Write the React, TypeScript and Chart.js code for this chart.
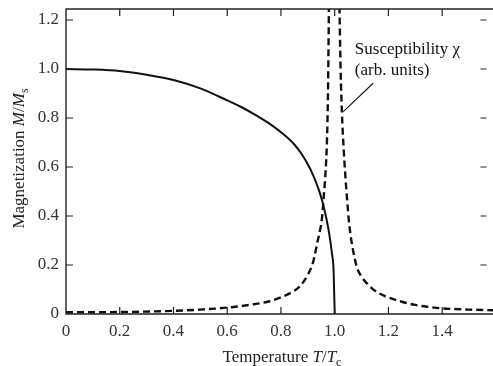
import React, { useEffect, useRef } from "react";
import { Chart, registerables } from "chart.js";
Chart.register(...registerables);

// ---- data ----
const xTickValues = [0, 0.2, 0.4, 0.6, 0.8, 1.0, 1.2, 1.4];
const xTickLabels = ["0", "0.2", "0.4", "0.6", "0.8", "1.0", "1.2", "1.4"];
const yTickValues = [0, 0.2, 0.4, 0.6, 0.8, 1.0, 1.2];
const yTickLabels = ["0", "0.2", "0.4", "0.6", "0.8", "1.0", "1.2"];

const magT = [0, 0.1, 0.2, 0.3, 0.4, 0.5, 0.6, 0.65, 0.7, 0.75, 0.8, 0.85, 0.875, 0.9, 0.92, 0.94, 0.955, 0.97, 0.98, 0.99, 0.996, 1.0];
const magM = [1.0, 0.998, 0.992, 0.977, 0.955, 0.921, 0.872, 0.846, 0.816, 0.782, 0.742, 0.692, 0.656, 0.611, 0.566, 0.51, 0.456, 0.385, 0.325, 0.245, 0.175, 0];

const chiLeftT = [0, 0.2, 0.4, 0.5, 0.6, 0.7, 0.75, 0.8, 0.85, 0.87, 0.9, 0.92, 0.935, 0.945, 0.952, 0.96, 0.966, 0.971, 0.975, 0.979];
const chiLeft = [0.007, 0.008, 0.013, 0.018, 0.026, 0.04, 0.05, 0.068, 0.095, 0.113, 0.16, 0.213, 0.29, 0.34, 0.384, 0.49, 0.58, 0.7, 0.9, 1.3];

const chiRightT = [1.017, 1.022, 1.027, 1.033, 1.04, 1.046, 1.052, 1.058, 1.065, 1.082, 1.1, 1.12, 1.15, 1.19, 1.25, 1.3, 1.35, 1.4, 1.5, 1.6];
const chiRight = [1.3, 1.0, 0.82, 0.68, 0.56, 0.47, 0.39, 0.33, 0.28, 0.193, 0.152, 0.125, 0.095, 0.072, 0.05, 0.037, 0.029, 0.023, 0.018, 0.015];

const annotationLines = ["Susceptibility χ", "(arb. units)"];
const annotationAnchor = { x: 1.075, y: 1.08 };
const leaderFrom = { x: 1.143, y: 0.942 };
const leaderTo = { x: 1.032, y: 0.826 };

const X_MIN = 0;
const X_MAX = 1.565;
const Y_MIN = 0;
const Y_MAX = 1.245;

const FONT = '"Liberation Serif", "Times New Roman", serif';
const INK = "#111";

type Seg = { text: string; italic?: boolean; sub?: boolean };

function drawSegs(ctx: CanvasRenderingContext2D, segs: Seg[], cx: number, baseY: number, size: number) {
  const fontFor = (s: Seg) => `${s.italic ? "italic " : ""}${s.sub ? Math.round(size * 0.7) : size}px ${FONT}`;
  let total = 0;
  for (const s of segs) {
    ctx.font = fontFor(s);
    total += ctx.measureText(s.text).width;
  }
  let x = cx - total / 2;
  ctx.textAlign = "left";
  ctx.textBaseline = "alphabetic";
  for (const s of segs) {
    ctx.font = fontFor(s);
    ctx.fillText(s.text, x, baseY + (s.sub ? size * 0.25 : 0));
    x += ctx.measureText(s.text).width;
  }
}

const decorPlugin = {
  id: "decor",
  afterDraw(chart: any) {
    const ctx: CanvasRenderingContext2D = chart.ctx;
    const { left, right, top, bottom } = chart.chartArea;
    const xs = chart.scales.x;
    const ys = chart.scales.y;
    const W = chart.width;
    ctx.save();
    // frame
    ctx.strokeStyle = "#222";
    ctx.lineWidth = 1.4;
    ctx.beginPath();
    ctx.moveTo(W, top);
    ctx.lineTo(left, top);
    ctx.lineTo(left, bottom);
    ctx.lineTo(W, bottom);
    ctx.stroke();
    // inward ticks
    ctx.lineWidth = 1.2;
    const tl = 7;
    ctx.beginPath();
    xTickValues.forEach((v) => {
      const px = xs.getPixelForValue(v);
      if (v === 0) return;
      ctx.moveTo(px, bottom);
      ctx.lineTo(px, bottom - tl);
      ctx.moveTo(px, top);
      ctx.lineTo(px, top + tl);
    });
    yTickValues.forEach((v) => {
      const py = ys.getPixelForValue(v);
      if (v === 0) return;
      ctx.moveTo(left, py);
      ctx.lineTo(left + tl, py);
      ctx.moveTo(right, py);
      ctx.lineTo(right - 6, py);
    });
    ctx.stroke();

    // annotation
    ctx.fillStyle = INK;
    ctx.font = `17px ${FONT}`;
    ctx.textAlign = "left";
    ctx.textBaseline = "middle";
    const ax = xs.getPixelForValue(annotationAnchor.x);
    const ay = ys.getPixelForValue(annotationAnchor.y);
    annotationLines.forEach((t, i) => ctx.fillText(t, ax, ay + i * 21));
    ctx.strokeStyle = INK;
    ctx.lineWidth = 1.1;
    ctx.beginPath();
    ctx.moveTo(xs.getPixelForValue(leaderFrom.x), ys.getPixelForValue(leaderFrom.y));
    ctx.lineTo(xs.getPixelForValue(leaderTo.x), ys.getPixelForValue(leaderTo.y));
    ctx.stroke();

    // axis titles
    ctx.fillStyle = "#222";
    drawSegs(ctx, [{ text: "Temperature " }, { text: "T", italic: true }, { text: "/" }, { text: "T", italic: true }, { text: "c", sub: true }], 282, 362, 17);
    ctx.save();
    ctx.translate(24, (top + bottom) / 2 - 3);
    ctx.rotate(-Math.PI / 2);
    drawSegs(ctx, [{ text: "Magnetization " }, { text: "M", italic: true }, { text: "/" }, { text: "M", italic: true }, { text: "s", sub: true }], 0, 0, 17);
    ctx.restore();
    ctx.restore();
  },
};

export default function App() {
  const ref = useRef<HTMLCanvasElement | null>(null);
  useEffect(() => {
    if (!ref.current) return;
    const toPts = (xs: number[], ys: number[]) => xs.map((x, i) => ({ x, y: ys[i] }));
    const clip = { left: 0, top: 0, right: 12, bottom: 0 };
    const chart = new Chart(ref.current, {
      type: "line",
      data: {
        datasets: [
          {
            label: "Magnetization",
            data: toPts(magT, magM),
            borderColor: INK,
            borderWidth: 2,
            pointRadius: 0,
            cubicInterpolationMode: "monotone",
            clip,
          },
          {
            label: "Susceptibility (T<Tc)",
            data: toPts(chiLeftT, chiLeft),
            borderColor: INK,
            borderWidth: 2.4,
            borderDash: [7, 4],
            pointRadius: 0,
            cubicInterpolationMode: "monotone",
            clip,
          },
          {
            label: "Susceptibility (T>Tc)",
            data: toPts(chiRightT, chiRight),
            borderColor: INK,
            borderWidth: 2.4,
            borderDash: [7, 4],
            pointRadius: 0,
            cubicInterpolationMode: "monotone",
            clip,
          },
        ],
      } as any,
      options: {
        responsive: false,
        animation: false,
        layout: { padding: { top: 9, right: 6.5, left: 0, bottom: 0 } },
        plugins: { legend: { display: false }, tooltip: { enabled: false } },
        scales: {
          x: {
            type: "linear",
            min: X_MIN,
            max: X_MAX,
            grid: { display: false, drawTicks: false },
            border: { display: false },
            afterBuildTicks: (s: any) => {
              s.ticks = xTickValues.map((v) => ({ value: v }));
            },
            afterFit: (s: any) => {
              s.height = 52;
              s.paddingLeft = 0;
              s.paddingRight = 0;
            },
            ticks: {
              autoSkip: false,
              maxRotation: 0,
              padding: 7,
              color: "#333",
              font: { family: FONT, size: 17 },
              callback: (v: any) => {
                const i = xTickValues.findIndex((t) => Math.abs(t - v) < 1e-6);
                return i >= 0 ? xTickLabels[i] : "";
              },
            },
          },
          y: {
            type: "linear",
            min: Y_MIN,
            max: Y_MAX,
            grid: { display: false, drawTicks: false },
            border: { display: false },
            afterBuildTicks: (s: any) => {
              s.ticks = yTickValues.map((v) => ({ value: v }));
            },
            afterFit: (s: any) => {
              s.width = 66;
              s.paddingTop = 0;
              s.paddingBottom = 0;
            },
            ticks: {
              autoSkip: false,
              padding: 7,
              color: "#333",
              font: { family: FONT, size: 17 },
              callback: (v: any) => {
                const i = yTickValues.findIndex((t) => Math.abs(t - v) < 1e-6);
                return i >= 0 ? yTickLabels[i] : "";
              },
            },
          },
        },
      } as any,
      plugins: [decorPlugin],
    });
    return () => chart.destroy();
  }, []);
  return (
    <div style={{ position: "absolute", left: 0, top: 0, width: 493, height: 366, background: "#fff" }}>
      <canvas ref={ref} width={493} height={366} style={{ width: 493, height: 366, display: "block" }} />
    </div>
  );
}
